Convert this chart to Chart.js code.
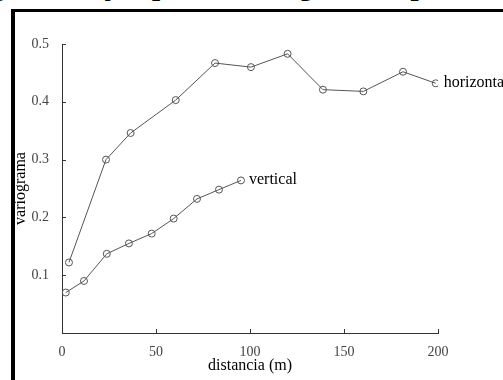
<!DOCTYPE html>
<html>
<head>
<meta charset="utf-8">
<script src="https://cdn.jsdelivr.net/npm/chart.js@4.4.0/dist/chart.umd.min.js"></script>
<style>
  html, body { margin: 0; padding: 0; background: #fff; }
  #wrap { position: relative; width: 503px; height: 380px; overflow: hidden; }
  #title { position: absolute; left: -34px; top: -29px; white-space: nowrap;
           font: bold 29px/29px "Liberation Serif", serif; color: #000; }
  #frame { position: absolute; left: 11px; top: 9px; width: 600px; height: 500px;
           border-left: 4px solid #000; border-top: 3px solid #000; }
  #c { position: absolute; left: 0; top: 0; }
</style>
</head>
<body>
<div id="wrap">
  <div id="title">Figura 2. Ejemplo de variograma espacial</div>
  <div id="frame"></div>
  <canvas id="c" width="503" height="380"></canvas>
</div>
<script>
// distances (m) and variogram values
const horizDist = [3.7, 23.4, 36.5, 60.5, 81.4, 100.5, 120, 138.8, 160.3, 181.4, 198.8];
const horizVal  = [0.122, 0.300, 0.346, 0.403, 0.467, 0.460, 0.483, 0.421, 0.418, 0.452, 0.432];
const vertDist  = [2.0, 11.7, 23.8, 35.6, 47.7, 59.4, 71.8, 83.5, 95.2];
const vertVal   = [0.070, 0.090, 0.137, 0.155, 0.172, 0.198, 0.232, 0.248, 0.264];
const seriesNames = ['horizontal', 'vertical'];
const xTicks = [0, 50, 100, 150, 200];
const yTicks = [0.1, 0.2, 0.3, 0.4, 0.5];

const toPoints = (xs, ys) => xs.map((x, i) => ({x: x, y: ys[i]}));

const serif = '"Liberation Serif", "Times New Roman", serif';
const lineColor = '#555';

const lineStyle = {
  showLine: true,
  borderColor: lineColor,
  borderWidth: 1,
  pointRadius: 3.5,
  pointBorderWidth: 1,
  pointBorderColor: lineColor,
  pointBackgroundColor: 'rgba(0,0,0,0)',
  backgroundColor: 'rgba(0,0,0,0)'
};

// labels at the end of each line + inward tick marks
const extras = {
  id: 'extras',
  afterDraw(chart) {
    const ctx = chart.ctx;
    const xs = chart.scales.x, ys = chart.scales.y;
    ctx.save();
    ctx.strokeStyle = '#333';
    ctx.lineWidth = 1;
    xTicks.forEach(v => {
      const px = Math.round(xs.getPixelForValue(v)) + 0.5;
      ctx.beginPath();
      ctx.moveTo(px, ys.bottom);
      ctx.lineTo(px, ys.bottom - 4);
      ctx.stroke();
    });
    yTicks.forEach(v => {
      const py = Math.round(ys.getPixelForValue(v)) + 0.5;
      ctx.beginPath();
      ctx.moveTo(xs.left, py);
      ctx.lineTo(xs.left + 4, py);
      ctx.stroke();
    });
    ctx.fillStyle = '#000';
    ctx.font = '16px ' + serif;
    ctx.textBaseline = 'middle';
    chart.data.datasets.forEach((ds, i) => {
      const meta = chart.getDatasetMeta(i);
      const last = meta.data[meta.data.length - 1];
      ctx.fillText(seriesNames[i], last.x + 8, last.y - 1);
    });
    ctx.restore();
  }
};

new Chart(document.getElementById('c'), {
  type: 'scatter',
  data: {
    datasets: [
      Object.assign({ label: seriesNames[0], data: toPoints(horizDist, horizVal) }, lineStyle),
      Object.assign({ label: seriesNames[1], data: toPoints(vertDist, vertVal) }, lineStyle)
    ]
  },
  options: {
    responsive: false,
    animation: false,
    layout: { padding: { left: 0, top: 44, right: 65, bottom: 0 } },
    plugins: { legend: { display: false }, tooltip: { enabled: false } },
    scales: {
      x: {
        type: 'linear', min: 0, max: 200,
        afterBuildTicks: s => { s.ticks = xTicks.map(v => ({value: v})); },
        afterFit: s => { s.height = 47; },
        grid: { display: false },
        border: { display: true, color: '#333', width: 1 },
        ticks: { padding: 3, color: '#444', font: { family: serif, size: 14 } },
        title: { display: true, text: 'distancia (m)', color: '#000',
                 font: { family: serif, size: 16 }, padding: { top: 0, bottom: 5 } }
      },
      y: {
        type: 'linear', min: 0, max: 0.5,
        afterBuildTicks: s => { s.ticks = yTicks.map(v => ({value: v})); },
        afterFit: s => { s.width = 62; },
        grid: { display: false },
        border: { display: true, color: '#333', width: 1 },
        ticks: { padding: 5, color: '#444', font: { family: serif, size: 14 },
                 callback: v => v.toFixed(1) },
        title: { display: true, text: 'variograma', color: '#000',
                 font: { family: serif, size: 16 }, padding: { top: 11, bottom: 0 } }
      }
    }
  },
  plugins: [extras]
});
</script>
</body>
</html>
